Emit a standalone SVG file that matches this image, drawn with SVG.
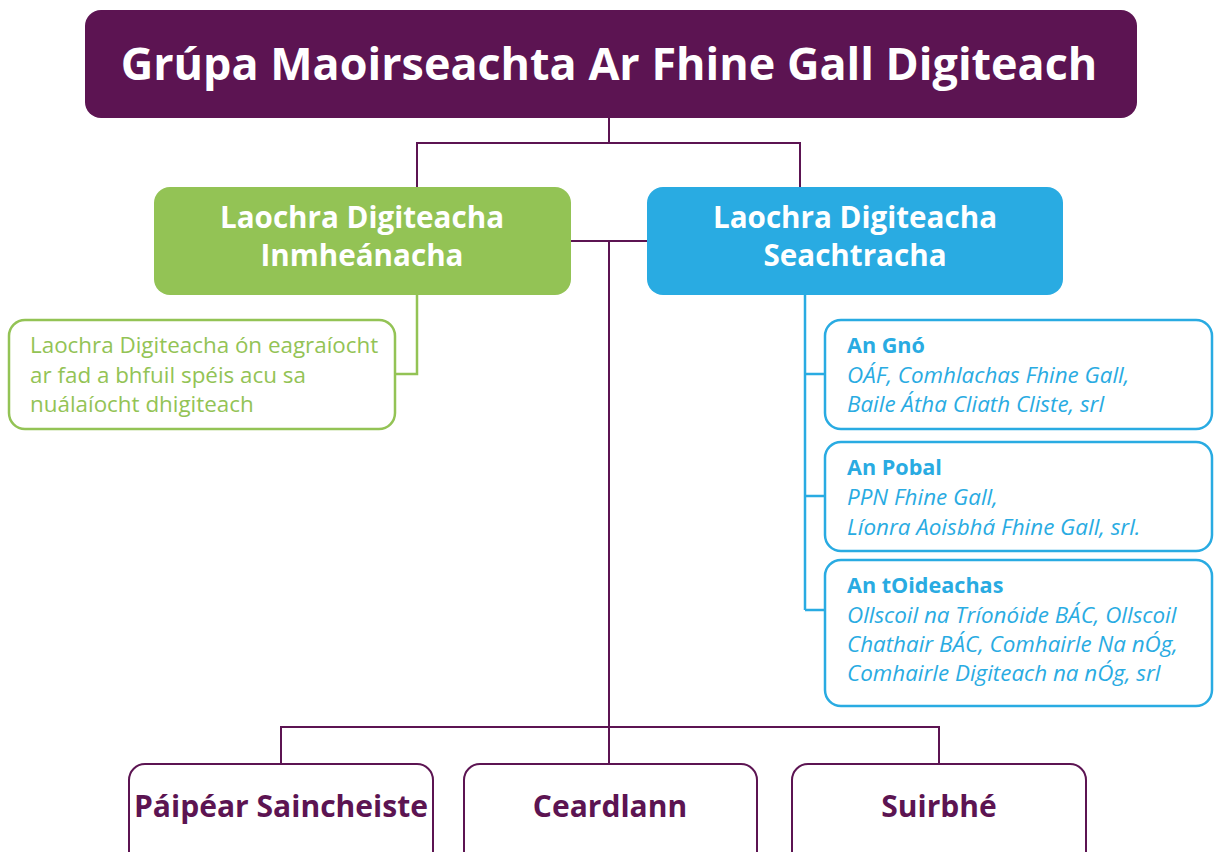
<svg xmlns="http://www.w3.org/2000/svg" width="1216" height="852" viewBox="0 0 1216 852">
<style>
.purple{fill:#5C1452}
.wb{fill:#fff;font-family:"Open Sans","Liberation Sans",sans-serif;font-weight:700;text-anchor:middle}
.pl{fill:none;stroke:#5C1452;stroke-width:2}
.gl{fill:none;stroke:#93C355;stroke-width:2.5}
.bl{fill:none;stroke:#29ABE2;stroke-width:2.5}
.gt{fill:#93C355;font-family:"Open Sans","Liberation Sans",sans-serif;font-size:22.4px}
.bt{fill:#29ABE2;font-family:"Open Sans","Liberation Sans",sans-serif;font-size:22.4px}
.bth{font-weight:700;font-size:21.6px}
.bti{font-style:italic}
.pt{fill:#5C1452;font-family:"Open Sans","Liberation Sans",sans-serif;font-weight:700;font-size:30px;text-anchor:middle}
</style>
<rect width="1216" height="852" fill="#fff"/>
<g id="connectors">
<path class="pl" d="M609 118V143M417 187V143H800V187"/>
<path class="pl" d="M571 241H647M609 241V727M281 764V727H939V764M609 727V764"/>
<path class="gl" d="M417 295V374H395"/>
<path class="bl" d="M805 295V610M805 374H825M805 496H825M805 610H825"/>
</g>
<g id="top">
<rect x="85" y="10" width="1052" height="108" rx="16" class="purple"/>
<text x="609" y="80" class="wb" font-size="44.9">Grúpa Maoirseachta Ar Fhine Gall Digiteach</text>
</g>
<g id="internal">
<rect x="154" y="187" width="417" height="108" rx="16" fill="#93C355"/>
<text x="362" y="228" class="wb" font-size="29.6">Laochra Digiteacha</text>
<text x="362" y="266" class="wb" font-size="29.6">Inmheánacha</text>
</g>
<g id="external">
<rect x="647" y="187" width="416" height="108" rx="16" fill="#29ABE2"/>
<text x="855" y="228" class="wb" font-size="29.6">Laochra Digiteacha</text>
<text x="855" y="266" class="wb" font-size="29.6">Seachtracha</text>
</g>
<g id="internal-desc">
<rect x="9" y="320" width="386" height="109" rx="16" fill="#fff" class="gl"/>
<text class="gt"><tspan x="30" y="353">Laochra Digiteacha ón eagraíocht</tspan><tspan x="30" y="383">ar fad a bhfuil spéis acu sa</tspan><tspan x="30" y="412">nuálaíocht dhigiteach</tspan></text>
</g>
<g id="gno">
<rect x="825" y="320" width="387" height="109" rx="16" fill="#fff" class="bl"/>
<text class="bt"><tspan x="847" y="353" class="bth">An Gnó</tspan><tspan x="847" y="383" class="bti">OÁF, Comhlachas Fhine Gall,</tspan><tspan x="847" y="412" class="bti">Baile Átha Cliath Cliste, srl</tspan></text>
</g>
<g id="pobal">
<rect x="825" y="442" width="387" height="109" rx="16" fill="#fff" class="bl"/>
<text class="bt"><tspan x="847" y="475" class="bth">An Pobal</tspan><tspan x="847" y="505" class="bti">PPN Fhine Gall,</tspan><tspan x="847" y="535" class="bti">Líonra Aoisbhá Fhine Gall, srl.</tspan></text>
</g>
<g id="oideachas">
<rect x="825" y="560" width="387" height="146" rx="16" fill="#fff" class="bl"/>
<text class="bt"><tspan x="847" y="593" class="bth">An tOideachas</tspan><tspan x="847" y="623" class="bti">Ollscoil na Tríonóide BÁC, Ollscoil</tspan><tspan x="847" y="652" class="bti">Chathair BÁC, Comhairle Na nÓg,</tspan><tspan x="847" y="681" class="bti">Comhairle Digiteach na nÓg, srl</tspan></text>
</g>
<g id="paipear">
<rect x="129" y="764" width="304" height="110" rx="16" fill="#fff" class="pl"/>
<text x="281" y="817" class="pt" textLength="294" lengthAdjust="spacingAndGlyphs">Páipéar Saincheiste</text>
</g>
<g id="ceardlann">
<rect x="464" y="764" width="293" height="110" rx="16" fill="#fff" class="pl"/>
<text x="610" y="817" class="pt">Ceardlann</text>
</g>
<g id="suirbhe">
<rect x="792" y="764" width="294" height="110" rx="16" fill="#fff" class="pl"/>
<text x="939" y="817" class="pt">Suirbhé</text>
</g>
</svg>
